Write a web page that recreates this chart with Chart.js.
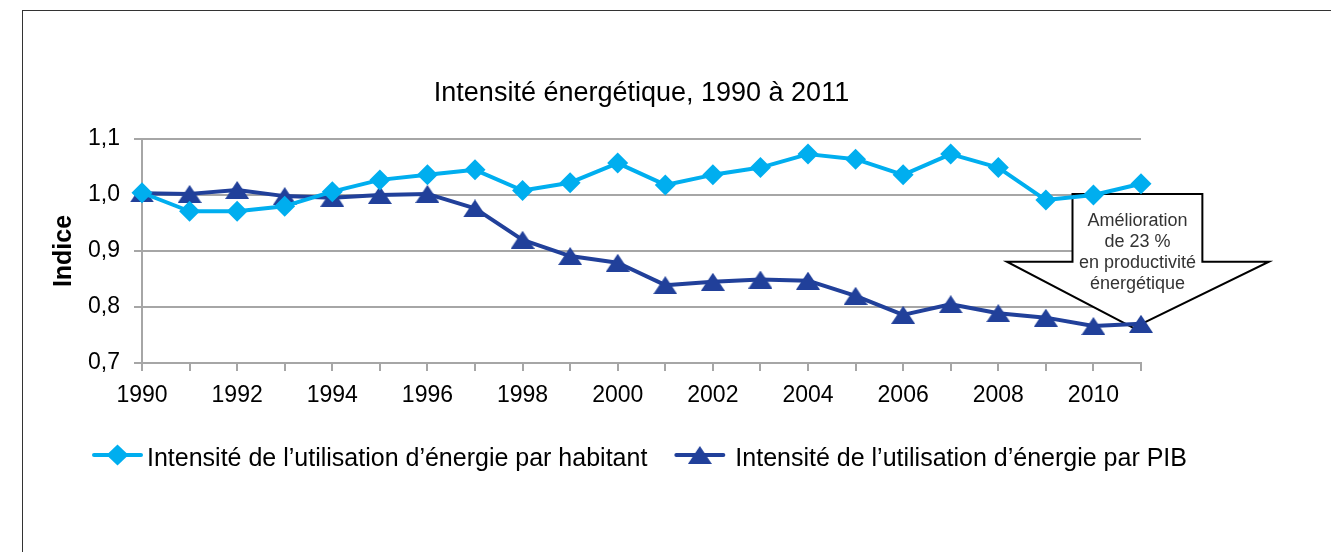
<!DOCTYPE html>
<html lang="fr">
<head>
<meta charset="utf-8">
<title>Intensité énergétique, 1990 à 2011</title>
<script src="https://cdn.jsdelivr.net/npm/chart.js@4/dist/chart.umd.min.js"></script>
<style>
  html, body { margin: 0; padding: 0; background: #fff; }
  #graphique { display: block; }
</style>
</head>
<body>
<canvas id="graphique" width="1331" height="552"></canvas>
<script>
// ─── DONNÉES ──────────────────────────────────────────────
const annees = ['1990', '1991', '1992', '1993', '1994', '1995', '1996', '1997', '1998', '1999', '2000',
                '2001', '2002', '2003', '2004', '2005', '2006', '2007', '2008', '2009', '2010', '2011'];

const parHabitant = [1.004, 0.971, 0.971, 0.980, 1.006, 1.027, 1.036, 1.045, 1.008, 1.022, 1.057,
                     1.018, 1.036, 1.049, 1.073, 1.064, 1.036, 1.073, 1.049, 0.991, 1.000, 1.020];

const parPib = [1.003, 1.002, 1.009, 0.998, 0.995, 1.000, 1.002, 0.976, 0.920, 0.891, 0.879,
                0.839, 0.845, 0.849, 0.847, 0.820, 0.786, 0.805, 0.789, 0.781, 0.766, 0.770];

const nomsSeries = ['Intensité de l’utilisation d’énergie par habitant',
                    'Intensité de l’utilisation d’énergie par PIB'];

const ticksY = [0.7, 0.8, 0.9, 1.0, 1.1];

const titre = 'Intensité énergétique, 1990 à 2011';
const titreAxeY = 'Indice';
const noteLignes = ['Amélioration', 'de 23 %', 'en productivité', 'énergétique'];

// ─── STYLE ────────────────────────────────────────────────
const POLICE = '"Liberation Sans", Arial, sans-serif';
const BLEU_CLAIR = '#00aeef';
const BLEU_FONCE = '#21409a';
const GRILLE = '#a6a6a6';

// flèche "Amélioration" : x en index d'année, y en valeur d'indice
const fleche = { gauche: 19.56, droite: 22.29, epauleG: 18.18, epauleD: 23.69, pointe: 20.84,
                 haut: 1.002, epaule: 0.881, bas: 0.7625 };

// triangle un peu aplati, comme le marqueur d'origine
function triangle(couleur, w, h) {
  const c = document.createElement('canvas');
  c.width = w; c.height = h;
  const g = c.getContext('2d');
  g.fillStyle = couleur;
  g.beginPath();
  g.moveTo(w / 2, 0);
  g.lineTo(w, h);
  g.lineTo(0, h);
  g.closePath();
  g.fill();
  return c;
}
const marqueurTri = triangle(BLEU_FONCE, 24, 18);

// ─── HABILLAGE (cadre, flèche, titre, légende) ────────────
const habillage = {
  id: 'habillage',
  beforeDraw(chart) {
    const ctx = chart.ctx;
    ctx.save();
    ctx.fillStyle = '#fff';
    ctx.fillRect(0, 0, chart.width, chart.height);
    ctx.strokeStyle = '#333';
    ctx.lineWidth = 1;
    ctx.strokeRect(22.5, 10.5, chart.width + 20, chart.height + 20);
    ctx.restore();
  },
  beforeDatasetsDraw(chart) {
    const { ctx, scales: { x, y } } = chart;
    const px = v => x.getPixelForValue(v);
    const py = v => y.getPixelForValue(v);
    ctx.save();
    ctx.beginPath();
    ctx.moveTo(px(fleche.gauche), py(fleche.haut));
    ctx.lineTo(px(fleche.droite), py(fleche.haut));
    ctx.lineTo(px(fleche.droite), py(fleche.epaule));
    ctx.lineTo(px(fleche.epauleD), py(fleche.epaule));
    ctx.lineTo(px(fleche.pointe), py(fleche.bas));
    ctx.lineTo(px(fleche.epauleG), py(fleche.epaule));
    ctx.lineTo(px(fleche.gauche), py(fleche.epaule));
    ctx.closePath();
    ctx.fillStyle = '#fff';
    ctx.fill();
    ctx.strokeStyle = '#000';
    ctx.lineWidth = 2;
    ctx.lineJoin = 'miter';
    ctx.stroke();

    ctx.fillStyle = '#333';
    ctx.font = '18px ' + POLICE;
    ctx.textAlign = 'center';
    ctx.textBaseline = 'alphabetic';
    const cx = (px(fleche.gauche) + px(fleche.droite)) / 2;
    const top = py(fleche.haut);
    noteLignes.forEach((t, i) => ctx.fillText(t, cx, top + 32 + i * 21.2));
    ctx.restore();
  },
  afterDraw(chart) {
    const { ctx, chartArea } = chart;
    const milieu = (chartArea.left + chartArea.right) / 2;
    ctx.save();

    // titre
    ctx.fillStyle = '#000';
    ctx.font = '27px ' + POLICE;
    ctx.textAlign = 'center';
    ctx.textBaseline = 'alphabetic';
    ctx.fillText(titre, milieu, 101);

    // légende
    ctx.font = '25px ' + POLICE;
    ctx.textAlign = 'left';
    const trait = 51, ecartTexte = [4, 10], ecartItems = 27;
    const larg = nomsSeries.map(t => ctx.measureText(t).width);
    const total = larg.reduce((s, w, i) => s + trait + ecartTexte[i] + w, 0) + ecartItems;
    let xx = milieu - 2 - total / 2;
    const yl = 455;
    chart.data.datasets.forEach((ds, i) => {
      ctx.strokeStyle = ds.borderColor;
      ctx.lineWidth = 4;
      ctx.lineCap = 'round';
      ctx.beginPath();
      ctx.moveTo(xx + 2, yl);
      ctx.lineTo(xx + trait - 2, yl);
      ctx.stroke();
      const mx = xx + trait / 2;
      if (ds.pointStyle === 'rectRot') {
        ctx.fillStyle = ds.borderColor;
        ctx.beginPath();
        ctx.moveTo(mx - 11, yl); ctx.lineTo(mx, yl - 10.5);
        ctx.lineTo(mx + 11, yl); ctx.lineTo(mx, yl + 10.5);
        ctx.closePath();
        ctx.fill();
      } else {
        ctx.drawImage(ds.pointStyle, mx - ds.pointStyle.width / 2, yl - ds.pointStyle.height / 2);
      }
      ctx.fillStyle = '#000';
      ctx.fillText(ds.label, xx + trait + ecartTexte[i], 466);
      xx += trait + ecartTexte[i] + larg[i] + ecartItems;
    });
    ctx.restore();
  }
};

// ─── GRAPHIQUE ────────────────────────────────────────────
new Chart(document.getElementById('graphique'), {
  type: 'line',
  data: {
    labels: annees,
    datasets: [
      {
        label: nomsSeries[0],
        data: parHabitant,
        borderColor: BLEU_CLAIR,
        backgroundColor: BLEU_CLAIR,
        borderWidth: 4,
        borderJoinStyle: 'round',
        pointStyle: 'rectRot',
        pointRadius: 10.5,
        pointBorderWidth: 0,
        tension: 0,
        clip: false
      },
      {
        label: nomsSeries[1],
        data: parPib,
        borderColor: BLEU_FONCE,
        backgroundColor: BLEU_FONCE,
        borderWidth: 4,
        borderJoinStyle: 'round',
        pointStyle: marqueurTri,
        pointRadius: 10,
        pointBorderWidth: 0,
        tension: 0,
        clip: false
      }
    ]
  },
  options: {
    responsive: false,
    devicePixelRatio: 1,
    animation: false,
    layout: { padding: { left: 22, right: 190, top: 139, bottom: 139 } },
    plugins: {
      legend: { display: false },
      title: { display: false },
      tooltip: { enabled: false }
    },
    scales: {
      x: {
        type: 'category',
        offset: false,
        afterFit: s => { s.height = 50; },
        grid: { drawOnChartArea: false, drawTicks: true, tickLength: 8, color: GRILLE, lineWidth: 2 },
        border: { display: true, color: GRILLE, width: 2 },
        ticks: {
          autoSkip: false,
          maxRotation: 0,
          minRotation: 0,
          padding: 11,
          color: '#000',
          font: { family: POLICE, size: 23 },
          callback: (v, i) => (i % 2 === 0 ? annees[i] : '')
        }
      },
      y: {
        min: 0.7,
        max: 1.1,
        afterFit: s => { s.width = 120; },
        afterBuildTicks: s => { s.ticks = ticksY.map(v => ({ value: v })); },
        grid: { color: GRILLE, lineWidth: 2, tickLength: 8, drawTicks: true },
        border: { display: true, color: GRILLE, width: 2 },
        ticks: {
          padding: 14,
          color: '#000',
          font: { family: POLICE, size: 23 },
          callback: v => v.toFixed(1).replace('.', ',')
        },
        title: {
          display: true,
          text: titreAxeY,
          color: '#000',
          font: { family: POLICE, size: 25, weight: 'bold' },
          padding: { top: 27, bottom: 0 }
        }
      }
    }
  },
  plugins: [habillage]
});
</script>
</body>
</html>
